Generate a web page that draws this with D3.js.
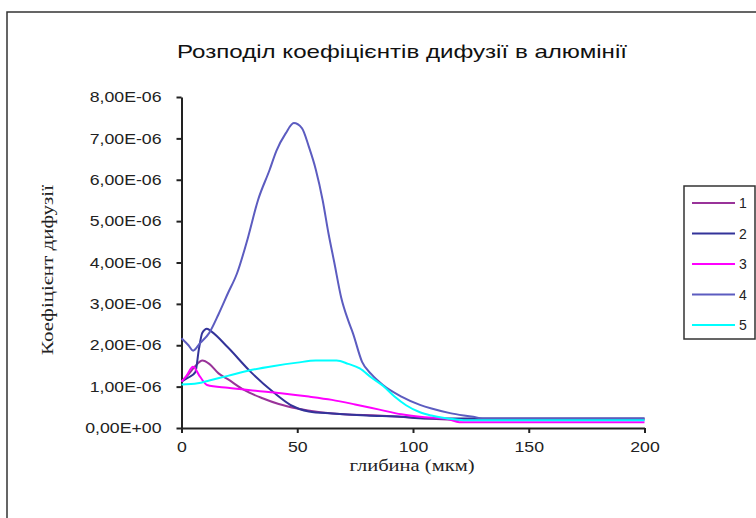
<!DOCTYPE html>
<html><head><meta charset="utf-8">
<script src="https://cdn.jsdelivr.net/npm/d3@7"></script>
<style>body{margin:0;background:#fff}svg{display:block}</style>
</head><body>
<svg id="c" width="756" height="518"></svg>
<script>
const title = "Розподіл коефіцієнтів дифузії в алюмінії";
const xTitle = "глибина (мкм)";
const yTitle = "Коефіцієнт дифузії";
const seriesNames = ["1","2","3","4","5"];
const seriesColors = ["#993399","#333399","#ff00ff","#5c5cc0","#00ffff"];
const xTicks = [0,50,100,150,200];
const yTicks = [0,1e-6,2e-6,3e-6,4e-6,5e-6,6e-6,7e-6,8e-6];
// values in units of 1e-6
const s1x = [0,3,6,9,12,16,20,27,35,42,50,60,70,85,100,110,120,200];
const s1y = [1.12,1.3,1.5,1.63,1.55,1.32,1.18,0.92,0.72,0.58,0.47,0.38,0.33,0.3,0.25,0.22,0.2,0.2];
const s2x = [0,3,6,7.5,9,11,13,20,30,40,47,55,65,80,95,105,120,200];
const s2y = [1.12,1.22,1.35,1.9,2.3,2.4,2.33,1.95,1.35,0.85,0.56,0.4,0.35,0.3,0.27,0.23,0.23,0.23];
const s3x = [0,2,5,8,11,20,32,43,55,65,75,85,95,105,115,120,200];
const s3y = [1.12,1.25,1.48,1.24,1.04,0.97,0.9,0.84,0.76,0.68,0.57,0.45,0.33,0.26,0.22,0.14,0.14];
const s4x = [0,3,5,8,12,16,20,24,28.7,33,38,41,45,48.5,52,55,58,61,63.5,66,69,72,74,78,82,87,95,103,108,116,126,130,200];
const s4y = [2.17,2.0,1.87,2.05,2.3,2.75,3.25,3.74,4.6,5.5,6.23,6.7,7.12,7.37,7.25,6.8,6.25,5.5,4.7,4.0,3.15,2.6,2.3,1.6,1.3,1.04,0.76,0.56,0.47,0.36,0.27,0.23,0.23];
const s5x = [0,7,12,20,30,40,50,58,67,72,77,82,87,92,97,103,108,115,122,200];
const s5y = [1.05,1.08,1.15,1.26,1.4,1.5,1.58,1.63,1.63,1.55,1.44,1.22,1.02,0.76,0.55,0.38,0.3,0.23,0.19,0.19];

const seriesX = [s1x,s2x,s3x,s4x,s5x];
const seriesY = [s1y,s2y,s3y,s4y,s5y];

const svg = d3.select("#c");
const SANS = "Liberation Sans, Arial, sans-serif";
const SERIF = "Liberation Serif, Times New Roman, serif";
// horizontally stretch text like the reference rendering
function stretch(sel, f) {
  sel.each(function(){
    const w = this.getComputedTextLength();
    d3.select(this).attr("textLength", w*f).attr("lengthAdjust","spacingAndGlyphs");
  });
}

// outer chart border
svg.append("rect").attr("x",7).attr("y",12).attr("width",760).attr("height",520)
  .attr("fill","none").attr("stroke","#333").attr("stroke-width",1.5);

const x = d3.scaleLinear().domain([0,200]).range([181.5,644.5]);
const y = d3.scaleLinear().domain([0,8e-6]).range([428,97]);

svg.append("text").attr("x",402).attr("y",58).attr("text-anchor","middle")
  .attr("font-family",SANS).attr("font-size",19)
  .attr("fill","#111").text(title).call(t=>t.attr("textLength",450).attr("lengthAdjust","spacingAndGlyphs"));

const fmt = v => {
  if (v === 0) return "0,00E+00";
  const e = Math.floor(Math.log10(v)+1e-9);
  const m = v/Math.pow(10,e);
  const es = (e<0?"-":"+") + String(Math.abs(e)).padStart(2,"0");
  return m.toFixed(2).replace(".",",")+"E"+es;
};

const yAxis = svg.append("g").attr("transform","translate(181.5,0)")
  .call(d3.axisLeft(y).tickValues(yTicks).tickFormat(fmt).tickSize(5).tickSizeOuter(0).tickPadding(15));
const xAxis = svg.append("g").attr("transform","translate(0,428)")
  .call(d3.axisBottom(x).tickValues(xTicks).tickSize(5).tickSizeOuter(0).tickPadding(9));
[yAxis,xAxis].forEach(g=>{
  g.select(".domain").attr("stroke","#222").attr("stroke-width",2);
  g.selectAll(".tick line").attr("stroke","#222").attr("stroke-width",2);
  g.selectAll("text").attr("font-family",SANS).attr("font-size",14.5).attr("fill","#222");
});
stretch(yAxis.selectAll("text"),1.22);
stretch(xAxis.selectAll("text"),1.22);

svg.append("text").attr("x",412).attr("y",471).attr("text-anchor","middle")
  .attr("font-family",SERIF).attr("font-size",16)
  .attr("fill","#222").text(xTitle).call(t=>t.attr("textLength",125).attr("lengthAdjust","spacingAndGlyphs"));
svg.append("text").attr("transform","translate(53,270) rotate(-90)").attr("text-anchor","middle")
  .attr("font-family",SERIF).attr("font-size",16)
  .attr("fill","#222").text(yTitle).call(t=>t.attr("textLength",170).attr("lengthAdjust","spacingAndGlyphs"));

const line = d3.line().x(d=>x(d[0])).y(d=>y(d[1]*1e-6)).curve(d3.curveMonotoneX);
seriesX.forEach((xs,i)=>{
  const pts = xs.map((v,j)=>[v,seriesY[i][j]]);
  svg.append("path").attr("d",line(pts)).attr("fill","none")
    .attr("stroke",seriesColors[i]).attr("stroke-width",2).attr("stroke-linejoin","round");
});

// legend
const lg = svg.append("g");
lg.append("rect").attr("x",684).attr("y",186).attr("width",71).attr("height",153)
  .attr("fill","#fff").attr("stroke","#333").attr("stroke-width",1.5);
seriesNames.forEach((n,i)=>{
  const yy = 203 + i*30.5;
  lg.append("line").attr("x1",692).attr("x2",735).attr("y1",yy).attr("y2",yy)
    .attr("stroke",seriesColors[i]).attr("stroke-width",2);
  lg.append("text").attr("x",739).attr("y",yy+5).attr("font-family",SANS)
    .attr("font-size",14).attr("fill","#222").text(n);
});
</script>
</body></html>
